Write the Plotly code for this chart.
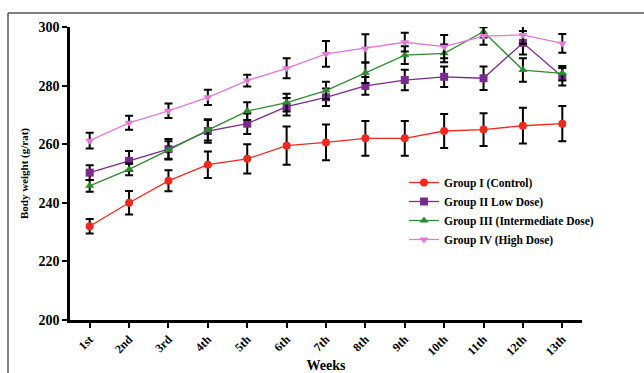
import plotly.graph_objects as go

weeks = ["1st", "2nd", "3rd", "4th", "5th", "6th", "7th", "8th", "9th", "10th", "11th", "12th", "13th"]

g1 = [232, 240, 247.5, 253, 255, 259.5, 260.6, 262, 262, 264.5, 265, 266.3, 267]
g1_err = [2.5, 4, 3.6, 4.5, 5, 6.5, 6.1, 5.9, 5.9, 5.8, 5.6, 6.1, 6]
g2 = [250.3, 254.3, 258.3, 264.5, 267, 272.8, 276, 279.9, 281.9, 283, 282.5, 294.6, 283]
g2_err = [2.5, 3.4, 3.5, 4, 3.5, 3, 3, 3, 3.5, 3.5, 4, 4, 3]
g3 = [245.8, 251.4, 258, 264.8, 271.3, 274.2, 278.3, 284.4, 290.4, 291, 298.4, 285.3, 284.2]
g3_err = [2, 2, 3, 3.5, 3, 3, 3, 3.5, 3, 3, 2, 4, 2.5]
g4 = [261.2, 267.3, 271.4, 276, 281.7, 285.9, 290.8, 292.7, 294.8, 293.3, 296.9, 297.3, 294.4]
g4_err = [2.7, 2.4, 2.5, 2.6, 2, 3.4, 4.4, 4.8, 3.2, 4, 3, 3, 3.2]

names = ["Group I (Control)", "Group II Low Dose)", "Group III (Intermediate Dose)", "Group IV (High Dose)"]
series = [g1, g2, g3, g4]
errors = [g1_err, g2_err, g3_err, g4_err]
colors = ["#F0281E", "#7A2A8C", "#2E8B2E", "#E27AD8"]
symbols = ["circle", "square", "triangle-up", "triangle-down"]

FONT = "Liberation Serif"
fig = go.Figure()
for name, ys, err, c, s in zip(names, series, errors, colors, symbols):
    fig.add_trace(go.Scatter(
        x=weeks, y=ys, name=name, mode="lines+markers",
        line=dict(color=c, width=1.3),
        marker=dict(color=c, symbol=s, size=8),
        error_y=dict(type="data", array=err, visible=True, color="black", thickness=2, width=4),
    ))

W, H = 644, 373
ml, mr, mt, mb = 70, 62, 27, 53
pw, ph = W - ml - mr, H - mt - mb

def px(x):
    return (x - ml) / pw

def py(y):
    return (H - mb - y) / ph

fig.update_layout(
    width=W, height=H,
    margin=dict(l=ml, r=mr, t=mt, b=mb),
    paper_bgcolor="white", plot_bgcolor="white",
    font=dict(family=FONT, color="black"),
    showlegend=True,
    legend=dict(x=px(404), y=py(168), xanchor="left", yanchor="top",
                font=dict(family=FONT, size=11.5, color="black", weight="bold"),
                bgcolor="rgba(0,0,0,0)", tracegroupgap=0, itemwidth=30),
    xaxis=dict(range=[-0.5, 12.5], showline=True, linecolor="black", linewidth=2.5,
               ticks="outside", ticklen=5, tickwidth=2, tickcolor="black",
               tickangle=-45, showgrid=False, zeroline=False, automargin=False,
               tickfont=dict(family=FONT, size=12, weight="bold"),
               title=dict(text="Weeks", font=dict(family=FONT, size=14, weight="bold"), standoff=8)),
    yaxis=dict(range=[200, 300], tickvals=[200, 220, 240, 260, 280, 300], showline=True,
               linecolor="black", linewidth=2.5, ticks="outside", ticklen=5, tickwidth=2,
               tickcolor="black", showgrid=False, zeroline=False, automargin=False,
               tickfont=dict(family=FONT, size=14, weight="bold"),
               title=dict(text="Body weight (g/rat)", font=dict(family=FONT, size=11, weight="bold"), standoff=8)),
    shapes=[
        dict(type="line", xref="paper", yref="paper", x0=px(8), x1=px(W + 5), y0=py(13), y1=py(13),
             line=dict(color="#555555", width=1.5)),
        dict(type="line", xref="paper", yref="paper", x0=px(8), x1=px(8), y0=py(13), y1=py(H + 5),
             line=dict(color="#555555", width=1.5)),
    ],
)

fig.write_html("out.html")
